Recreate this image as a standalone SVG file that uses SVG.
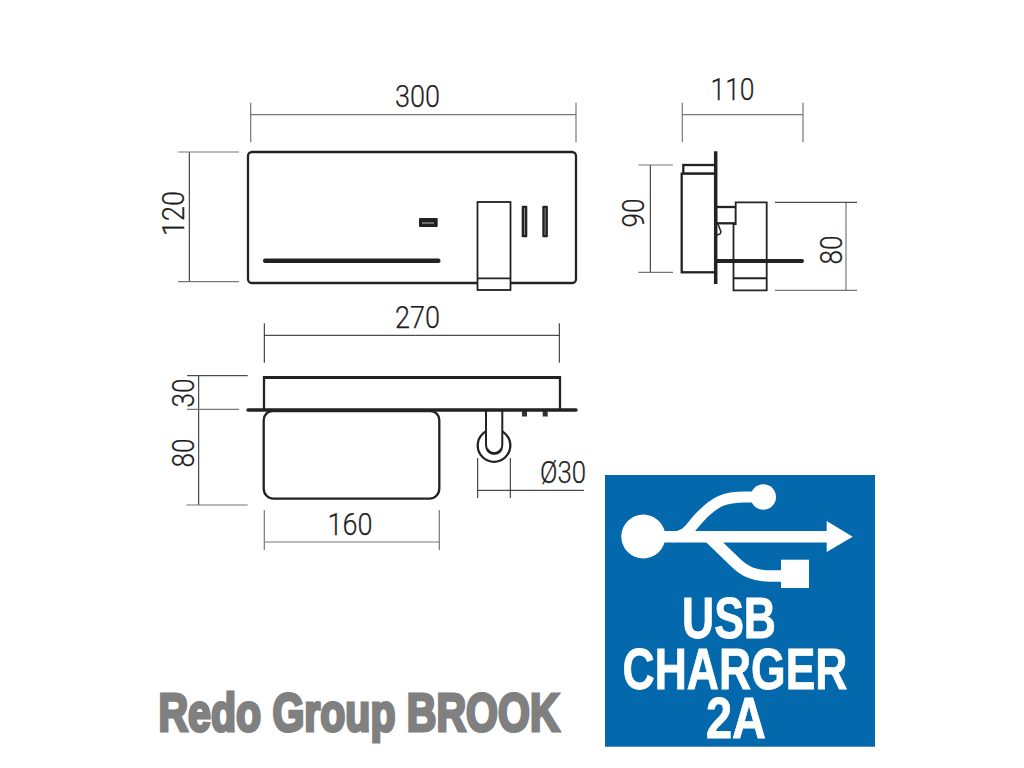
<svg xmlns="http://www.w3.org/2000/svg" width="1024" height="768" viewBox="0 0 1024 768">
<style>
.dim{font-family:Roboto,"Liberation Sans",sans-serif;font-weight:300;font-size:32px;fill:#1e1e1e;stroke:#1e1e1e;stroke-width:.25}
.usb{font-family:"Liberation Sans",Arial,sans-serif;font-weight:700;font-size:57px;fill:#fff;stroke:#fff;stroke-width:.8}
.t{font-family:"Liberation Sans",Arial,sans-serif;font-weight:700;font-size:54px;fill:#808080;stroke:#808080;stroke-width:3.2}
.d{stroke:#222;stroke-width:1;fill:none}
.g{stroke:#777;stroke-width:1.2;fill:none}
.o{stroke:#222;stroke-width:2.300;fill:#fff}
.o2{stroke:#222;stroke-width:1.800;fill:#fff}
.b{stroke:#222;fill:none}
</style>
<rect width="1024" height="768" fill="#fff"/>
<g id="connectors">
<path class="g" d="M250.700 114.700H576"/><path class="g" d="M250.700 102.700V142.300M576 102.700V142.300"/>
<path class="d" d="M189.300 152V281.700"/><path class="g" d="M178 152H239M178 281.700H239"/>
<path class="g" d="M682.300 114.700H803M682.300 102.700V142.300M803 102.700V142.300"/>
<path class="d" d="M650.300 165V272.300"/><path class="g" d="M638.500 165H673M638.500 272.300H673"/>
<path class="g" d="M846 202.300V290.300"/><path class="d" d="M775 202.300H857"/><path class="g" d="M775 290.300H857"/>
<path class="d" d="M264.300 335.300H559.300M264.300 323.300V362.700M559.300 323.300V362.700"/>
<path class="d" d="M198.700 375.700V505M187 375.700H247.700"/><path class="g" d="M187 409.300H239M186.500 505H247.700"/>
<path class="d" d="M477.700 490.300H584M477.700 458V498M510.300 458V498"/>
<path class="g" d="M264.300 542H439.300"/><path class="g" d="M264.300 510V550M439.300 510V550"/>
</g>
<g id="front-view">
<rect class="o" x="248" y="152" width="328" height="131" rx="4"/>
<rect x="263" y="258.500" width="177.500" height="4.500" rx="2" fill="#222"/>
<rect x="419" y="218" width="18.700" height="9" rx="1" fill="#222"/>
<path d="M422 223H434" stroke="#bbb" stroke-width="1"/>
<rect x="521.700" y="205.700" width="5.600" height="31.600" rx="1" fill="#222"/>
<path d="M524.500 208V235" stroke="#888" stroke-width="1"/>
<rect x="542.300" y="205.700" width="5.600" height="31.600" rx="1" fill="#222"/>
<path d="M545.100 208V235" stroke="#888" stroke-width="1"/>
<rect class="o2" x="477.500" y="202" width="33" height="88"/>
<path class="b" stroke-width="1.800" d="M477 278.300H511"/>
</g>
<g id="side-view">
<rect class="o" x="683.300" y="165" width="32" height="8.700"/>
<rect class="o" x="681.700" y="173.700" width="34" height="98.600"/>
<rect class="o" x="716" y="207" width="20" height="16.300"/>
<path class="b" stroke-width="1.500" d="M718 224L721 232L720 234L717 235"/>
<path class="o2" d="M735.700 224V202.300H766.700V290.300H733.500V224Z"/>
<path class="b" stroke-width="2" d="M733.500 278.300H766.700M735.700 224H733.500"/>
<path d="M715.700 151.300V284" stroke="#222" stroke-width="3.500"/>
<path d="M716 261H802" stroke="#222" stroke-width="4" stroke-linecap="round"/>
</g>
<g id="top-view">
<path d="M264 409V377.800H560V409" stroke="#222" stroke-width="2.300" fill="#fff"/>
<path d="M263 377.500H561" stroke="#222" stroke-width="3.200"/>
<circle class="o" cx="494" cy="445.500" r="16.300"/>
<path d="M486 411V445A8.100 8.100 0 0 0 502.300 445V411" stroke="#222" stroke-width="2" fill="#fff"/>
<path d="M487 449A8 8 0 0 0 501.500 449" stroke="#222" stroke-width="2.500" fill="none"/>
<rect x="522" y="411" width="5" height="5.500" fill="#333"/>
<rect x="542.700" y="411" width="5" height="5.500" fill="#333"/>
<path class="o" d="M263.700 420A9 9 0 0 1 272.700 411H430.300A9 9 0 0 1 439.300 420V488.700A10 10 0 0 1 429.300 498.700H273.700A10 10 0 0 1 263.700 488.700Z"/>
<path d="M248 410H576" stroke="#222" stroke-width="3.500" stroke-linecap="round"/>
</g>
<g id="labels">
<text class="dim" x="395" y="107" textLength="45" lengthAdjust="spacingAndGlyphs">300</text>
<text class="dim" x="710.500" y="100" textLength="44" lengthAdjust="spacingAndGlyphs">110</text>
<text class="dim" transform="translate(184.300 236) rotate(-90)" textLength="45" lengthAdjust="spacingAndGlyphs">120</text>
<text class="dim" transform="translate(644 227.500) rotate(-90)" textLength="29" lengthAdjust="spacingAndGlyphs">90</text>
<text class="dim" transform="translate(841.700 264.500) rotate(-90)" textLength="29" lengthAdjust="spacingAndGlyphs">80</text>
<text class="dim" x="395" y="328.300" textLength="45" lengthAdjust="spacingAndGlyphs">270</text>
<text class="dim" transform="translate(194 407.500) rotate(-90)" textLength="29" lengthAdjust="spacingAndGlyphs">30</text>
<text class="dim" transform="translate(194 467.500) rotate(-90)" textLength="29" lengthAdjust="spacingAndGlyphs">80</text>
<text class="dim" x="327.500" y="535" textLength="45" lengthAdjust="spacingAndGlyphs">160</text>
<text class="dim" x="540" y="483" textLength="46" lengthAdjust="spacingAndGlyphs">Ø30</text>
</g>
<g id="title">
<text class="t" x="158.500" y="730.500" textLength="401" lengthAdjust="spacingAndGlyphs">Redo Group BROOK</text>
</g>
<g id="usb-badge">
<rect x="605" y="475" width="270" height="271.700" fill="#0468ad"/>
<circle cx="643.300" cy="536.500" r="22" fill="#fff"/>
<circle cx="763.300" cy="497" r="12.700" fill="#fff"/>
<path d="M650 536.700H828" stroke="#fff" stroke-width="11.500" fill="none"/>
<path d="M826.700 521L852.700 536.700L826.700 552Z" fill="#fff"/>
<path d="M672 536.700C688 536.700 690 527 700 517C715 501 725 497 745 497H763" stroke="#fff" stroke-width="11" fill="none"/>
<path d="M708 536L735 562C745 572 755 576 770 576H790" stroke="#fff" stroke-width="11.500" fill="none"/>
<rect x="781" y="559.700" width="28" height="28.300" fill="#fff"/>
<text class="usb" x="682" y="638" textLength="94" lengthAdjust="spacingAndGlyphs">USB</text>
<text class="usb" x="622.500" y="688.500" textLength="225" lengthAdjust="spacingAndGlyphs">CHARGER</text>
<text class="usb" x="706" y="738" textLength="60" lengthAdjust="spacingAndGlyphs">2A</text>
</g>
</svg>
